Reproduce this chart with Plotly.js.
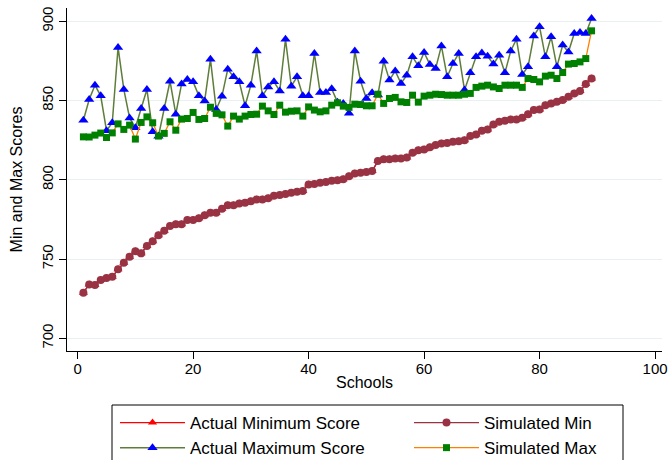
<!DOCTYPE html>
<html>
<head>
<meta charset="utf-8">
<script src="https://cdn.plot.ly/plotly-3.0.1.min.js"></script>
<style>
  html, body { margin: 0; padding: 0; background: #ffffff; }
  #chart { width: 670px; height: 460px; }
</style>
</head>
<body>
<div id="chart"></div>
<script>
// School rank (schools sorted by simulated minimum score)
const schools = Array.from({length: 89}, (_, k) => k + 1);

// Lowest scores per school
const actualMin = [
  728.8, 734.0, 733.6, 736.8, 738.0, 738.8, 743.5, 747.7, 751.5, 755.0,
  753.6, 758.2, 761.3, 765.1, 767.8, 770.8, 771.9, 771.9, 774.6, 774.6,
  775.7, 777.7, 779.2, 779.2, 781.7, 784.0, 784.0, 785.1, 785.5, 786.5,
  787.6, 787.6, 788.3, 789.9, 790.4, 791.0, 791.8, 792.4, 792.9, 797.1,
  797.3, 798.1, 798.7, 799.4, 799.8, 800.3, 802.3, 804.0, 804.4, 805.0,
  805.5, 811.8, 812.9, 813.0, 813.5, 813.5, 814.1, 817.0, 818.7, 819.2,
  820.5, 822.0, 822.9, 823.3, 824.0, 824.3, 825.0, 827.6, 828.6, 830.9,
  831.8, 834.9, 836.6, 837.2, 838.1, 838.1, 839.1, 841.4, 844.0, 844.4,
  847.1, 848.2, 849.2, 850.3, 852.4, 854.5, 856.0, 860.5, 864.0
];
const simulatedMin = [
  728.8, 734.0, 733.6, 736.8, 738.0, 738.8, 743.5, 747.7, 751.5, 755.0,
  753.6, 758.2, 761.3, 765.1, 767.8, 770.8, 771.9, 771.9, 774.6, 774.6,
  775.7, 777.7, 779.2, 779.2, 781.7, 784.0, 784.0, 785.1, 785.5, 786.5,
  787.6, 787.6, 788.3, 789.9, 790.4, 791.0, 791.8, 792.4, 792.9, 797.1,
  797.3, 798.1, 798.7, 799.4, 799.8, 800.3, 802.3, 804.0, 804.4, 805.0,
  805.5, 811.8, 812.9, 813.0, 813.5, 813.5, 814.1, 817.0, 818.7, 819.2,
  820.5, 822.0, 822.9, 823.3, 824.0, 824.3, 825.0, 827.6, 828.6, 830.9,
  831.8, 834.9, 836.6, 837.2, 838.1, 838.1, 839.1, 841.4, 844.0, 844.4,
  847.1, 848.2, 849.2, 850.3, 852.4, 854.5, 856.0, 860.5, 864.0
];

// Highest scores per school
const actualMax = [
  837.6, 850.7, 859.7, 853.0, 831.0, 836.0, 883.5, 857.0, 839.0, 832.8,
  845.0, 857.0, 830.3, 827.5, 845.0, 862.2, 841.4, 860.5, 863.3, 861.8,
  853.0, 849.8, 876.1, 844.4, 852.8, 869.8, 865.0, 861.8, 846.7, 859.7,
  881.3, 853.0, 858.6, 861.8, 856.1, 888.7, 859.1, 865.0, 853.0, 853.0,
  879.7, 855.1, 855.1, 857.4, 849.0, 848.2, 842.0, 881.3, 862.2, 851.3,
  854.9, 853.5, 874.8, 862.9, 868.7, 860.8, 866.0, 877.6, 871.9, 880.3,
  872.8, 870.2, 884.5, 865.0, 873.4, 879.7, 856.6, 867.5, 877.6, 880.0,
  878.0, 873.0, 878.6, 867.5, 881.3, 888.7, 866.4, 871.3, 890.8, 896.5,
  877.6, 890.2, 871.3, 885.0, 880.7, 892.3, 892.9, 892.3, 901.8
];
const simulatedMax = [
  827.1, 827.0, 828.2, 829.5, 826.7, 829.6, 835.3, 831.8, 834.5, 825.7,
  836.2, 839.7, 836.0, 827.6, 829.3, 836.6, 831.3, 838.3, 838.7, 842.5,
  838.1, 838.7, 845.8, 841.9, 841.0, 833.9, 840.2, 838.3, 840.2, 841.2,
  841.4, 846.5, 843.5, 841.2, 847.1, 842.7, 843.3, 843.5, 840.2, 846.0,
  844.0, 842.9, 843.5, 847.1, 848.6, 846.5, 845.7, 847.7, 847.5, 846.7,
  846.7, 854.0, 848.2, 851.3, 852.0, 849.2, 848.8, 853.4, 849.0, 852.8,
  853.4, 854.0, 853.8, 853.4, 853.4, 853.4, 854.0, 854.5, 858.3, 859.1,
  859.7, 858.6, 857.6, 859.7, 859.7, 859.7, 858.3, 863.9, 863.3, 861.8,
  865.4, 866.0, 863.9, 867.7, 873.0, 873.4, 874.4, 876.5, 894.0
];

const xTicks = [0, 20, 40, 60, 80, 100];
const yTicks = [700, 750, 800, 850, 900];

const FONT = 'Liberation Sans, Arial, sans-serif';

// Plot area in pixels (used to place the legend frame in paper units)
const W = 670, H = 460;
const M = {l: 67, r: 8, t: 8, b: 109, autoexpand: false};
const pw = W - M.l - M.r, ph = H - M.t - M.b;
const px = v => (v - M.l) / pw;
const py = v => (H - M.b - v) / ph;

const traces = [
  {
    x: schools, y: actualMin, name: 'Actual Minimum Score',
    mode: 'lines+markers',
    line: {color: '#ff0000', width: 1.3},
    marker: {symbol: 'triangle-up', size: 8, color: '#ff0000'}
  },
  {
    x: schools, y: simulatedMin, name: 'Simulated Min',
    mode: 'lines+markers',
    line: {color: '#993344', width: 1.3},
    marker: {symbol: 'circle', size: 8, color: '#993344'}
  },
  {
    x: schools, y: actualMax, name: 'Actual Maximum Score',
    mode: 'lines+markers',
    line: {color: '#5e7d3a', width: 1.5},
    marker: {symbol: 'triangle-up', size: 9, color: '#0000ff'}
  },
  {
    x: schools, y: simulatedMax, name: 'Simulated Max',
    mode: 'lines+markers',
    line: {color: '#ff8000', width: 1.3},
    marker: {symbol: 'square', size: 7, color: '#008000'}
  }
];

const layout = {
  width: W, height: H,
  margin: M,
  paper_bgcolor: '#ffffff',
  plot_bgcolor: '#ffffff',
  font: {family: FONT, size: 15, color: '#000000'},
  showlegend: true,
  xaxis: {
    range: [-1.84, 101.2],
    tickvals: xTicks,
    ticks: 'outside', ticklen: 7, tickcolor: '#000000', tickwidth: 1,
    ticklabelstandoff: -3,
    showline: true, linecolor: '#000000', linewidth: 1,
    showgrid: false, zeroline: false,
    tickfont: {family: FONT, size: 15, color: '#000000'},
    title: {text: 'Schools', font: {family: FONT, size: 16, color: '#000000'}, standoff: 0}
  },
  yaxis: {
    range: [692, 908.4],
    tickvals: yTicks,
    tickangle: -90,
    ticks: 'outside', ticklen: 7, tickcolor: '#000000', tickwidth: 1,
    showline: true, linecolor: '#000000', linewidth: 1,
    showgrid: true, gridcolor: '#e8f0f2', gridwidth: 1,
    zeroline: false,
    tickfont: {family: FONT, size: 15, color: '#000000'},
    title: {text: 'Min and Max Scores', font: {family: FONT, size: 16, color: '#000000'}, standoff: 12}
  },
  legend: {
    orientation: 'h',
    x: px(115), xanchor: 'left',
    y: py(405), yanchor: 'top',
    bgcolor: 'rgba(0,0,0,0)',
    borderwidth: 0,
    entrywidth: 214, entrywidthmode: 'pixels',
    itemwidth: 65,
    traceorder: 'normal',
    font: {family: FONT, size: 17, color: '#000000'}
  },
  shapes: [
    {
      type: 'rect', xref: 'paper', yref: 'paper',
      x0: px(112), x1: px(623), y0: py(405), y1: py(480),
      line: {color: '#000000', width: 1}, fillcolor: 'rgba(0,0,0,0)'
    }
  ]
};

Plotly.newPlot('chart', traces, layout, {displayModeBar: false, staticPlot: true});
</script>
</body>
</html>
